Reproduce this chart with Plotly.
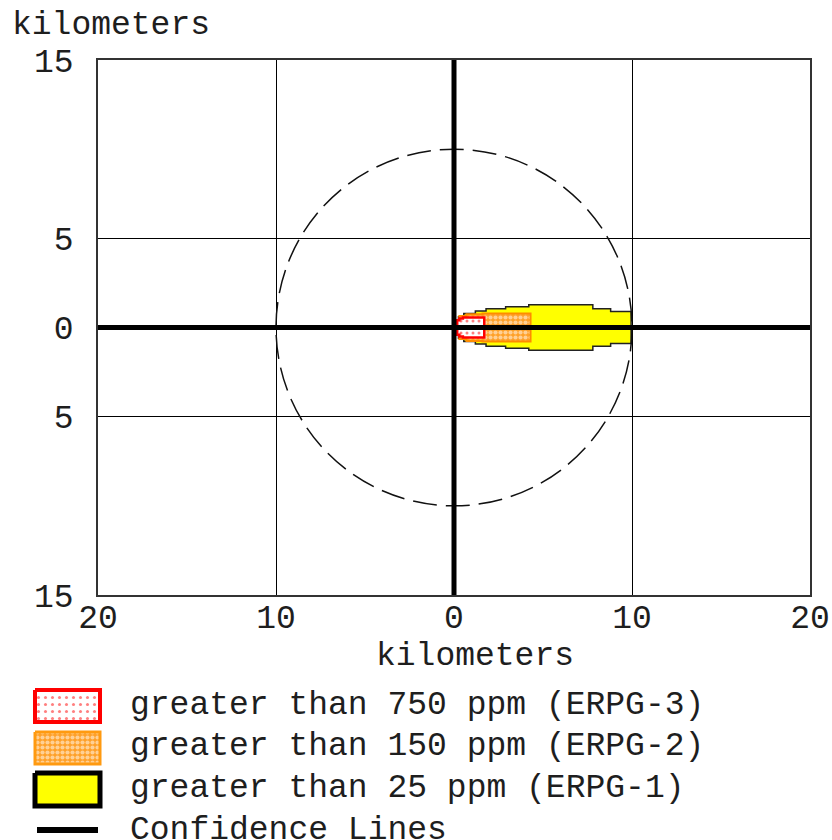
import plotly.graph_objects as go

# ---------------- data ----------------
x_tick_vals = [-20, -10, 0, 10, 20]
x_tick_text = ["20", "10", "0", "10", "20"]
y_tick_vals = [-15, -5, 0, 5, 15]
y_tick_text = ["15", "5", "0", "5", "15"]

# threat zones: downwind segment edges (km) and half-width (km) on each segment
yellow_edges = [0.1, 0.25, 0.55, 1.2, 1.8, 2.9, 4.2, 7.8, 8.8, 9.95]
yellow_hw = [0.3, 0.6, 0.78, 0.92, 1.05, 1.17, 1.28, 1.05, 0.9]
orange_edges = [0.1, 0.3, 0.7, 1.6, 4.3]
orange_hw = [0.4, 0.65, 0.75, 0.78]
red_edges = [0.1, 0.18, 0.3, 0.5, 1.7]
red_hw = [0.2, 0.4, 0.5, 0.56]

confidence_radius = 10  # km

legend_labels = [
    "greater than 750 ppm (ERPG-3)",
    "greater than 150 ppm (ERPG-2)",
    "greater than 25 ppm (ERPG-1)",
    "Confidence Lines",
]

FONT = "Courier New, Liberation Mono, monospace"
FS = 33
TXT = "#1e1e1e"
W, H = 832, 840
ML, MR, MT, MB = 0, 22, 0, 0
PW, PH = W - ML - MR, H - MT - MB


def px_x(p):
    return (p - ML) / PW


def px_y(p):
    return (H - MB - p) / PH


def step_polygon(edges, hws):
    xs, ys = [edges[0]], [0]
    for i, h in enumerate(hws):
        xs += [edges[i], edges[i + 1]]
        ys += [h, h]
    xs.append(edges[-1]); ys.append(0)
    for i in range(len(hws) - 1, -1, -1):
        xs += [edges[i + 1], edges[i]]
        ys += [-hws[i], -hws[i]]
    xs.append(edges[0]); ys.append(0)
    return xs, ys


fig = go.Figure()

yx, yy = step_polygon(yellow_edges, yellow_hw)
fig.add_trace(go.Scatter(x=yx, y=yy, fill="toself", fillcolor="#FFFF00",
                         line=dict(color="#222222", width=1.5), mode="lines",
                         hoverinfo="skip", showlegend=False))
ox, oy = step_polygon(orange_edges, orange_hw)
fig.add_trace(go.Scatter(x=ox, y=oy, fill="toself", fillcolor="#FFA028",
                         fillpattern=dict(shape=".", fgcolor="white", bgcolor="#FFA028",
                                          size=5, solidity=0.55),
                         line=dict(color="#FF8C00", width=2), mode="lines",
                         hoverinfo="skip", showlegend=False))
rx, ry = step_polygon(red_edges, red_hw)
fig.add_trace(go.Scatter(x=rx, y=ry, fill="toself", fillcolor="white",
                         fillpattern=dict(shape=".", fgcolor="red", bgcolor="white",
                                          size=6, solidity=0.2),
                         line=dict(color="#FF0000", width=2.5), mode="lines",
                         hoverinfo="skip", showlegend=False))

# ---------- legend swatches (in a pixel-unit helper axis) ----------
swatches = [
    dict(y0=690, y1=722, fill="white",
         pat=dict(shape=".", fgcolor="red", bgcolor="white", size=7, solidity=0.15),
         lc="#FF0000", lw=4),
    dict(y0=732, y1=764, fill="#FFA028",
         pat=dict(shape=".", fgcolor="white", bgcolor="#FFA028", size=5, solidity=0.55),
         lc="#FF9A10", lw=3),
    dict(y0=773, y1=806, fill="#FFFF00", pat=None, lc="black", lw=5),
]
for s in swatches:
    kw = dict(fillpattern=s["pat"]) if s["pat"] else {}
    fig.add_trace(go.Scatter(
        x=[35, 100, 100, 35, 35], y=[s["y0"], s["y0"], s["y1"], s["y1"], s["y0"]],
        xaxis="x2", yaxis="y2", fill="toself", fillcolor=s["fill"], mode="lines",
        line=dict(color=s["lc"], width=s["lw"]), hoverinfo="skip", showlegend=False, **kw))
fig.add_trace(go.Scatter(x=[37, 98], y=[830, 830], xaxis="x2", yaxis="y2", mode="lines",
                         line=dict(color="black", width=6), hoverinfo="skip", showlegend=False))

for lab, yc in zip(legend_labels, [705, 746, 788, 830]):
    fig.add_annotation(x=px_x(128), y=px_y(yc), xref="paper", yref="paper", text=lab,
                       showarrow=False, xanchor="left", yanchor="middle",
                       font=dict(family=FONT, size=FS, color=TXT))

# ---------- shapes ----------
fig.add_shape(type="circle", xref="x", yref="y",
              x0=-confidence_radius, x1=confidence_radius,
              y0=-confidence_radius, y1=confidence_radius,
              line=dict(color="#111111", width=1.5, dash="24px,9px"), layer="above")
fig.add_shape(type="line", xref="x domain", yref="y", x0=0, x1=1, y0=0, y1=0,
              line=dict(color="black", width=5), layer="above")
fig.add_shape(type="line", xref="x", yref="y domain", x0=0, x1=0, y0=0, y1=1,
              line=dict(color="black", width=5), layer="above")

# ---------- titles ----------
fig.add_annotation(x=px_x(10), y=px_y(25), xref="paper", yref="paper", text="kilometers",
                   showarrow=False, xanchor="left", yanchor="middle",
                   font=dict(family=FONT, size=FS, color=TXT))
fig.add_annotation(x=px_x(475), y=px_y(656), xref="paper", yref="paper", text="kilometers",
                   showarrow=False, xanchor="center", yanchor="middle",
                   font=dict(family=FONT, size=FS, color=TXT))

axis_common = dict(showline=True, linecolor="#333333", linewidth=1.5, mirror=True,
                   showgrid=True, gridcolor="black", gridwidth=1, zeroline=False,
                   ticks="", automargin=False, tickfont=dict(family=FONT, size=FS, color=TXT))

fig.update_layout(
    width=W, height=H,
    margin=dict(l=ML, r=MR, t=MT, b=MB, pad=0),
    paper_bgcolor="white", plot_bgcolor="white",
    showlegend=False,
    xaxis=dict(domain=[px_x(98), px_x(810)], range=[-20, 20], tickvals=x_tick_vals,
               ticktext=x_tick_text, ticklabelstandoff=-8, anchor="y", **axis_common),
    yaxis=dict(domain=[px_y(595), px_y(60)], range=[-15, 15], tickvals=y_tick_vals,
               ticktext=y_tick_text, ticklabelstandoff=16, anchor="x", **axis_common),
    xaxis2=dict(domain=[0, 1], range=[ML, ML + PW], visible=False, anchor="y2",
                automargin=False),
    yaxis2=dict(domain=[0, px_y(680)], range=[H, 680], visible=False, anchor="x2",
                automargin=False),
)

fig.write_html("out.html")
